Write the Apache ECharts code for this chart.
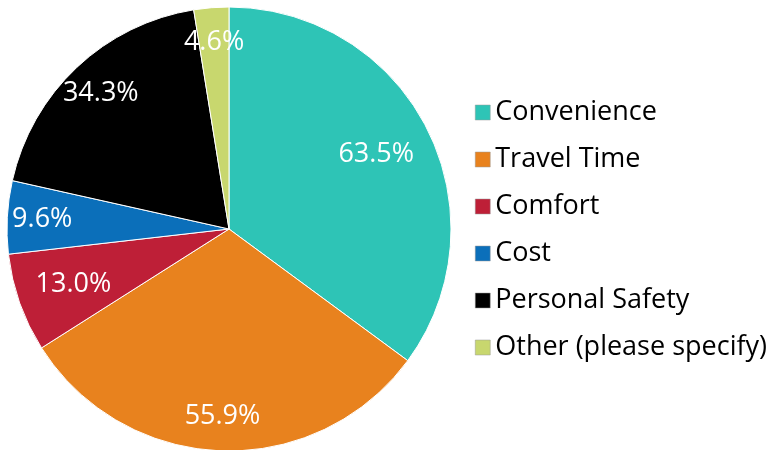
<!DOCTYPE html>
<html>
<head>
<meta charset="utf-8">
<script src="https://cdn.jsdelivr.net/npm/echarts@6/dist/echarts.min.js"></script>
<style>
  html, body { margin: 0; padding: 0; background: #fff; }
  #chart { width: 768px; height: 450px; }
</style>
</head>
<body>
<div id="chart"></div>
<script>
// answers (percent of respondents, multi-select so they don't sum to 100)
var categories = ['Convenience', 'Travel Time', 'Comfort', 'Cost', 'Personal Safety', 'Other (please specify)'];
var percents = [63.5, 55.9, 13.0, 9.6, 34.3, 4.6];
var colors = ['#2EC4B6', '#E8821E', '#BE1F37', '#0B6FBA', '#000000', '#C8D76E'];
// slices whose label sits closer to the centre
var innerLabels = ['Convenience', 'Comfort'];

function labelSeries(r0, which) {
    var d = [];
    for (var j = 0; j < categories.length; j++) {
        var inner = innerLabels.indexOf(categories[j]) >= 0;
        d.push({
            name: categories[j],
            value: percents[j],
            itemStyle: { color: 'rgba(0,0,0,0)' },
            label: { show: inner === which }
        });
    }
    return {
        type: 'pie',
        center: [229, 229],
        radius: [r0, 222],
        startAngle: 90,
        clockwise: true,
        data: d,
        silent: true,
        legendHoverLink: false,
        label: {
            position: 'inside',
            formatter: function (p) { return p.value.toFixed(1) + '%'; },
            color: '#fff',
            fontFamily: 'Open Sans',
            fontSize: 27
        },
        labelLine: { show: false }
    };
}

function draw() {
    var myChart = echarts.init(document.getElementById('chart'));

    var data = [];
    for (var i = 0; i < categories.length; i++) {
        data.push({ name: categories[i], value: percents[i], itemStyle: { color: colors[i] } });
    }

    var option = {
        animation: false,
        legend: {
            orient: 'vertical',
            left: 470,
            top: 94,
            icon: 'rect',
            itemWidth: 15,
            itemHeight: 15,
            itemGap: 20,
            data: categories,
            itemStyle: { borderColor: '#999', borderWidth: 0.5 },
            textStyle: { fontFamily: 'Open Sans', fontSize: 27, color: '#000' }
        },
        series: [
            {
                name: 'base',
                type: 'pie',
                center: [229, 229],
                radius: [0, 222],
                startAngle: 90,
                clockwise: true,
                data: data,
                itemStyle: { borderColor: '#fff', borderWidth: 1 },
                label: { show: false },
                labelLine: { show: false },
                silent: true
            },
            labelSeries(146, false),
            labelSeries(102, true)
        ]
    };

    myChart.setOption(option);
}
draw();
</script>
</body>
</html>
